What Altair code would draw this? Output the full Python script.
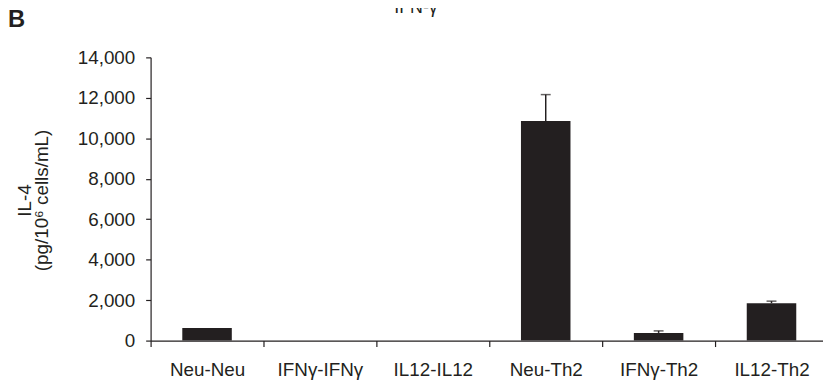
import altair as alt
import pandas as pd

categories = ["Neu-Neu", "IFNγ-IFNγ", "IL12-IL12", "Neu-Th2", "IFNγ-Th2", "IL12-Th2"]
values = [620, 0, 0, 10850, 380, 1850]
errors = [0, 0, 0, 1310, 100, 100]
y_ticks = [0, 2000, 4000, 6000, 8000, 10000, 12000, 14000]

df = pd.DataFrame({"cat": categories, "val": values, "err": errors})
df["top"] = df["val"] + df["err"]
err_df = df[df["err"] > 0]

INK = "#231f20"
FONT = "Liberation Sans"

x_axis = alt.Axis(
    title=None, tickBand="extent", tickSize=6, labelPadding=14,
    labelFontSize=19, labelFont=FONT, labelColor=INK, labelAngle=0,
    domainColor=INK, tickColor=INK, domainWidth=1.2, tickWidth=1.2,
    grid=False,
)
x_scale = alt.Scale(range=[0, 684], paddingInner=0, paddingOuter=0)
y_axis = alt.Axis(
    values=y_ticks, format=",.0f", formatType="number", tickSize=5, labelPadding=11,
    labelFontSize=19, labelFont=FONT, labelColor=INK,
    domainColor=INK, tickColor=INK, domainWidth=1.2, tickWidth=1.2,
    grid=False,
    title=["IL-4", "(pg/10⁶ cells/mL)"],
    titleFont=FONT, titleFontSize=19, titleFontWeight="normal", titleColor=INK,
    titleAngle=-90, titleX=-121, titleY=144, titleAlign="center",
    titleBaseline="alphabetic", titleLineHeight=16.5,
)
y_scale = alt.Scale(domain=[0, 14000], nice=False)


def xe():
    return alt.X("cat:N", sort=categories, scale=x_scale, axis=x_axis)


bars = alt.Chart(df).mark_bar(color=INK, width=50).encode(
    x=xe(), y=alt.Y("val:Q", scale=y_scale, axis=y_axis)
)

rules = alt.Chart(err_df).mark_rule(color=INK, strokeWidth=1.5).encode(
    x=xe(),
    y=alt.Y("val:Q", scale=y_scale, axis=y_axis),
    y2="top:Q",
)
caps = alt.Chart(err_df).mark_tick(color=INK, size=10, thickness=1.5, orient="horizontal").encode(
    x=xe(),
    y=alt.Y("top:Q", scale=y_scale, axis=y_axis),
)

label_df = pd.DataFrame({"t": ["B"]})
panel = alt.Chart(label_df).mark_text(
    font=FONT, fontSize=24, fontWeight="bold", color=INK, align="left", baseline="alphabetic"
).encode(text="t:N", x=alt.value(-144), y=alt.value(-30.5))

title_df = pd.DataFrame({"t": ["IFN-γ"]})
top_title = alt.Chart(title_df).mark_text(
    font=FONT, fontSize=18, color=INK, align="center", baseline="alphabetic"
).encode(text="t:N", x=alt.value(268), y=alt.value(-45))

chart = alt.layer(bars, rules, caps, panel, top_title).properties(
    width=671, height=286,
    autosize=alt.AutoSizeParams(type="none"),
    padding={"left": 144, "top": 48, "right": 8, "bottom": 45},
    background="white",
).configure_view(stroke=None, strokeWidth=0)

chart.save("out.html", embed_options={"renderer": "svg", "actions": False})
